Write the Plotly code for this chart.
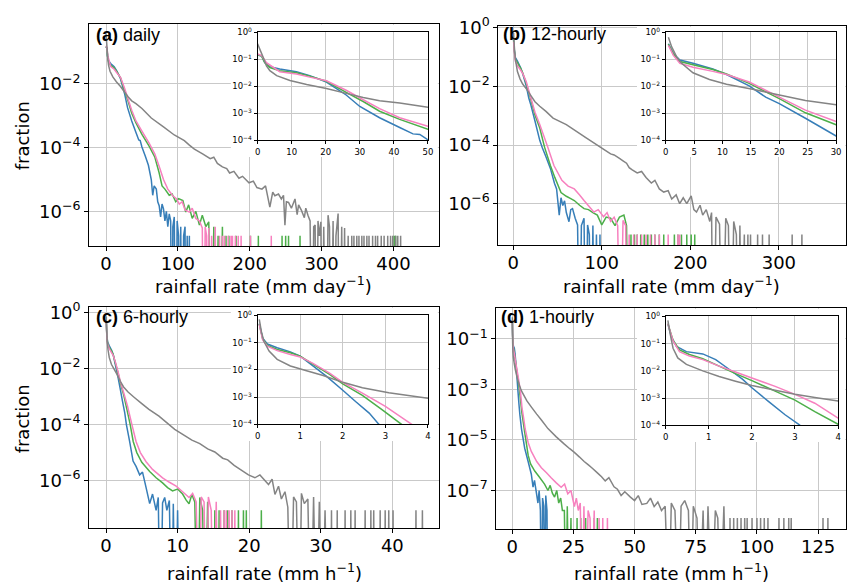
import plotly.graph_objects as go

W, H = 852, 586
BLUE, GREEN, PINK, GRAY = "#377eb8", "#4daf4a", "#f781bf", "#848484"
FLOOR = 1e-12  # stands in for empty (zero) bins on the log axis

# ------------------------------------------------------------------ data
# (a) daily, rainfall rate in mm/day
a_blue_x = [0, 1.2, 2.1, 3.6, 6.5, 11.4, 15.3, 20.2, 26, 30, 35.8, 41.7, 45.6, 47.6, 50, 55, 59, 63, 65, 67,
            70, 72, 74, 76, 78, 80, 82, 84, 86, 88, 90, 92, 93, 95, 97, 99, 101, 102, 104, 106, 108, 110, 111,
            113, 114, 116, 117]
a_blue_y = [0.145, 0.132, 7.6e-2, 5.4e-2, 4.4e-2, 3.5e-2, 2.5e-2, 1.45e-2, 4.8e-3, 1.8e-3, 6.9e-4, 3.0e-4,
            1.74e-4, 1.66e-4, 1.05e-4, 5.2e-5, 2.8e-5, 1.0e-5, 3.2e-6, 6.3e-6, 5.0e-6, 2.0e-6, 1.5e-6, 6.7e-7,
            1.7e-6, 1.2e-6, 5.0e-7, 1.0e-6, 3.3e-7, 8.3e-7, 5.0e-7, 0, 3.3e-7, 6.7e-7, 0, 5.0e-7, 1.7e-7, 0,
            3.3e-7, 0, 1.7e-7, 3.3e-7, 0, 1.7e-7, 0, 1.7e-7, 0]
a_blue_spikes = []
a_green_x = [0, 1.2, 2.1, 3.6, 6.5, 11.4, 15.3, 20.2, 26, 31, 35.8, 41.7, 50, 60, 68, 74, 78, 82, 88, 92, 97,
             101, 107, 111, 115, 120, 125, 130, 134, 139, 143, 147, 150, 153, 156, 158, 162, 164]
a_green_y = [0.151, 0.132, 7.6e-2, 5.0e-2, 3.8e-2, 3.2e-2, 2.4e-2, 1.55e-2, 6.0e-3, 2.75e-3, 1.2e-3, 6.0e-4,
             2.6e-4, 1.12e-4, 5.0e-5, 1.6e-5, 6.3e-6, 5.0e-6, 3.2e-6, 3.5e-6, 2.0e-6, 2.5e-6, 2.2e-6, 9.5e-7,
             1.6e-6, 6.0e-7, 1.0e-6, 3.7e-7, 7.6e-7, 3.3e-7, 4.7e-7, 0, 3.3e-7, 0, 1.7e-7, 0, 3.3e-7, 0]
a_green_spikes = [167, 171, 181, 201, 212, 245, 250, 254, 270, 401, 403]
a_pink_x = [0, 1.2, 2.6, 6.5, 11.4, 15.3, 20.2, 26, 31, 35.8, 41.7, 50, 60, 68, 75, 80, 86, 93, 98, 102, 106,
            110, 116, 120, 125, 130, 134, 136, 138, 140, 141, 143, 145, 147, 149, 152, 154]
a_pink_y = [0.158, 0.138, 7.6e-2, 3.5e-2, 2.9e-2, 2.2e-2, 1.62e-2, 7.2e-3, 3.2e-3, 1.5e-3, 6.9e-4, 3.3e-4,
            1.4e-4, 6.3e-5, 2.2e-5, 1.0e-5, 5.0e-6, 3.1e-6, 2.5e-6, 1.7e-6, 2.0e-6, 1.1e-6, 9.5e-7, 1.26e-6,
            6.0e-7, 5.0e-7, 3.0e-7, 0, 3.3e-7, 1.7e-7, 0, 3.0e-7, 0, 1.7e-7, 0, 3.3e-7, 0]
a_pink_spikes = [158, 162, 165, 170, 174, 176, 180, 184, 188, 201, 230]
a_gray_x = [0, 0.7, 1.7, 2.6, 3.6, 5.6, 9.5, 14.4, 20.2, 26, 31, 35.8, 41.7, 50, 63, 80, 95, 109, 116, 123,
            135, 145, 150, 155, 162, 168, 172, 178, 185, 190, 199, 205, 210, 217, 222, 228, 232, 235, 240, 244,
            247, 249, 251, 254, 258, 263, 266, 268, 272, 276, 278, 281, 284, 287, 289, 291, 293, 295, 297, 299,
            301, 303, 306, 309, 311, 313, 316, 318, 320, 323, 325, 328, 330, 332, 334, 337, 339]
a_gray_y = [0.38, 0.23, 0.115, 5.8e-2, 3.8e-2, 2.5e-2, 1.66e-2, 1.17e-2, 8.3e-3, 5.5e-3, 3.9e-3, 2.95e-3,
            2.4e-3, 1.7e-3, 8.5e-4, 4.5e-4, 2.5e-4, 1.66e-4, 1.2e-4, 9.0e-5, 6.3e-5, 4.5e-5, 5.0e-5, 3.2e-5,
            2.5e-5, 2.2e-5, 1.6e-5, 1.8e-5, 1.1e-5, 1.26e-5, 7.9e-6, 8.9e-6, 5.6e-6, 5.0e-6, 6.3e-6, 1.35e-6,
            4.0e-6, 3.1e-6, 3.5e-6, 2.45e-6, 3.2e-6, 3.7e-7, 2.0e-6, 1.9e-6, 1.26e-6, 2.45e-6, 7.9e-7, 1.6e-6,
            1.07e-6, 6.3e-7, 1.26e-6, 7.6e-7, 5.0e-7, 0, 3.3e-7, 3.7e-7, 0, 5.0e-7, 1.7e-7, 4.7e-7, 0, 3.3e-7,
            0, 7.6e-7, 3.3e-7, 0, 5.0e-7, 0, 1.7e-7, 8.5e-7, 0, 3.3e-7, 0, 3.0e-7, 0, 1.7e-7, 0]
a_gray_spikes = [342, 345, 349, 352, 356, 359, 363, 366, 371, 375, 378, 383, 387, 392, 396, 399, 403, 406, 410]
a_unit = 1.7e-7  # one count

# (b) 12-hourly, mm/day
b_blue_x = [0.47, 1.34, 2.5, 4.8, 8.3, 10.7, 14.7, 17.6, 20, 24.6, 30, 33, 37, 42, 46.6, 49, 52, 54, 56, 58,
            60, 63, 65, 67, 70, 72.7, 75, 77, 80, 82, 84, 86, 88, 90, 92, 94, 96, 98, 99]
b_blue_y = [0.38, 0.166, 9.5e-2, 7.2e-2, 4.4e-2, 2.75e-2, 1.05e-2, 4.0e-3, 2.3e-3, 6.6e-4, 1.45e-4, 7.9e-5,
            4.0e-5, 1.6e-5, 5.0e-6, 3.2e-6, 4.1e-7, 1.6e-6, 8.7e-7, 1.26e-6, 5.0e-7, 2.45e-7, 6.3e-7, 6.8e-7,
            3.2e-7, 1.9e-7, 0, 1.8e-7, 3.2e-7, 0, 1.9e-7, 8.9e-8, 0, 1.8e-7, 0, 8.9e-8, 0, 8.9e-8, 0]
b_blue_spikes = []
b_green_x = [0.47, 1.34, 2.5, 4.8, 8.3, 10.7, 14.7, 20, 24.6, 30, 35.4, 42, 47, 54, 60, 65, 69, 75, 80, 85,
             90, 95, 100, 105, 110, 115, 120, 125, 128, 130]
b_green_y = [0.363, 0.158, 8.3e-2, 6.3e-2, 4.2e-2, 2.9e-2, 1.29e-2, 3.5e-3, 1.05e-3, 3.8e-4, 8.5e-5, 2.0e-5,
             7.9e-6, 2.4e-6, 1.8e-6, 1.5e-6, 1.29e-6, 8.9e-7, 6.8e-7, 6.3e-7, 5.0e-7, 4.1e-7, 1.9e-7, 3.5e-7,
             3.2e-7, 1.8e-7, 3.5e-7, 4.1e-7, 1.8e-7, 0]
b_green_spikes = [133, 137, 140, 144, 148, 152, 156, 160, 165, 170, 182, 186, 190, 196, 201, 205]
b_pink_x = [0.47, 1.34, 2.5, 4.8, 8.3, 10.7, 14.7, 20, 24.6, 30, 39, 46, 55, 62, 69, 75, 80, 86, 91, 96, 102,
            106, 110, 114, 118, 121, 124, 127, 129, 131, 133]
b_pink_y = [0.33, 0.141, 7.2e-2, 5.1e-2, 3.6e-2, 2.75e-2, 1.45e-2, 4.0e-3, 1.32e-3, 5.0e-4, 8.5e-5, 2.0e-5,
            6.3e-6, 4.0e-6, 3.2e-6, 2.0e-6, 1.29e-6, 7.9e-7, 5.2e-7, 6.3e-7, 3.6e-7, 5.0e-7, 2.5e-7, 3.5e-7,
            1.8e-7, 0, 2.7e-7, 1.8e-7, 0, 8.9e-8, 0]
b_pink_spikes = [136, 140, 145, 150, 155, 160, 165, 175, 186, 188]
b_gray_x = [0.47, 1.05, 1.9, 2.8, 4.8, 7.7, 10.7, 15.3, 20, 24.6, 30, 37, 45, 60, 82, 104, 110, 114, 120, 124,
            128, 131, 134, 140, 145, 150, 156, 160, 165, 170, 175, 179, 184, 188, 192, 196, 201, 204, 207, 211,
            214, 218, 222, 224, 226, 229, 233, 236, 240, 243, 246, 249, 252, 254, 256, 258, 261, 262]
b_gray_y = [0.66, 0.29, 0.126, 7.2e-2, 3.2e-2, 1.8e-2, 1.2e-2, 7.9e-3, 4.8e-3, 3.0e-3, 2.1e-3, 1.4e-3, 8.3e-4,
            5.0e-4, 1.8e-4, 6.6e-5, 5.0e-5, 4.6e-5, 3.5e-5, 2.9e-5, 2.4e-5, 1.7e-5, 1.45e-5, 1.12e-5, 1.26e-5,
            7.9e-6, 5.1e-6, 6.3e-6, 3.2e-6, 2.5e-6, 2.8e-6, 1.45e-6, 2.0e-6, 1.0e-6, 1.6e-6, 1.0e-6, 1.86e-6,
            6.3e-7, 5.2e-7, 8.9e-7, 4.1e-7, 6.3e-7, 2.5e-7, 5.0e-7, 0, 3.5e-7, 2.0e-7, 0, 3.2e-7, 1.8e-7, 0,
            2.5e-7, 8.9e-8, 0, 1.8e-7, 0, 8.9e-8, 0]
b_gray_spikes = [265, 268, 276, 281.5, 289, 315, 326]
b_unit = 8.9e-8

# (c) 6-hourly, mm/h
c_blue_x = [0.04, 0.12, 0.23, 0.46, 0.77, 1.0, 1.3, 1.62, 2.0, 2.3, 2.62, 2.85, 3.3, 3.78, 4.2, 4.7, 5.1, 5.6,
            6.1, 6.5, 7.0, 7.3, 7.6, 7.9, 8.2, 8.5, 8.85, 9.2, 9.4, 9.7, 10.0, 10.3]
c_blue_y = [0.5, 0.145, 8.9e-2, 6.5e-2, 4.6e-2, 3.2e-2, 1.4e-2, 5.8e-3, 1.8e-3, 6.9e-4, 2.6e-4, 1.0e-4, 2.5e-5,
            5.0e-6, 3.2e-6, 1.6e-6, 2.0e-6, 5.6e-7, 1.5e-7, 3.3e-7, 8.7e-8, 2.5e-7, 0, 1.6e-7, 2.5e-7, 8.7e-8,
            1.95e-7, 0, 1.5e-7, 0, 8.7e-8, 0]
c_blue_spikes = []
c_green_x = [0.04, 0.12, 0.23, 0.46, 0.77, 1.0, 1.3, 1.69, 2.0, 2.46, 2.92, 3.38, 3.8, 4.3, 5.0, 6.1, 7.0, 7.9,
             8.6, 9.3, 10.0, 10.7, 11.2, 11.6, 12.0, 12.4, 12.8, 13.1, 13.5, 13.8, 14.2, 14.6]
c_green_y = [0.48, 0.138, 7.9e-2, 5.6e-2, 4.3e-2, 3.2e-2, 1.62e-2, 6.8e-3, 3.1e-3, 1.17e-3, 3.5e-4, 1.0e-4,
             2.5e-5, 1.0e-5, 4.5e-6, 2.1e-6, 1.26e-6, 8.3e-7, 5.6e-7, 4.3e-7, 5.0e-7, 3.3e-7, 2.0e-7, 1.5e-7,
             3.2e-7, 1.74e-7, 0, 2.5e-7, 8.7e-8, 0, 1.74e-7, 0]
c_green_spikes = [15.2, 15.8, 16.5, 17.0, 17.6, 18.5, 19.2, 19.6, 21.7]
c_pink_x = [0.04, 0.12, 0.23, 0.46, 0.77, 1.0, 1.3, 1.69, 2.0, 2.46, 3.0, 3.62, 4.2, 4.8, 5.6, 6.5, 7.9, 8.8,
            9.8, 10.7, 11.6, 12.1, 12.6, 13.0, 13.3, 13.7, 14.0, 14.3, 14.7, 15.0, 15.4, 15.7, 16.0, 16.2]
c_pink_y = [0.47, 0.126, 7.4e-2, 5.1e-2, 3.7e-2, 3.0e-2, 1.74e-2, 7.6e-3, 3.5e-3, 1.4e-3, 4.6e-4, 1.0e-4,
            2.5e-5, 1.0e-5, 4.7e-6, 2.5e-6, 1.26e-6, 8.9e-7, 6.3e-7, 4.0e-7, 2.5e-7, 3.5e-7, 1.74e-7, 0, 2.6e-7,
            1.74e-7, 0, 2.6e-7, 8.7e-8, 0, 1.74e-7, 0, 8.7e-8, 0]
c_pink_spikes = [16.5, 16.8, 17.2, 17.6, 18.0]
c_gray_x = [0.04, 0.09, 0.15, 0.27, 0.46, 0.77, 1.15, 1.54, 2.0, 2.46, 3.08, 4.0, 5.0, 6.0, 7.4, 9.6, 12.0,
            13.1, 14.2, 15.2, 16.3, 17.0, 17.9, 19.9, 20.8, 21.5, 22.7, 23.2, 23.6, 24.1, 24.5, 25.0, 25.4, 25.8,
            26.2, 26.6, 27.0, 27.3, 27.7, 28.2, 28.6, 29.0, 29.4, 29.8, 30.2, 30.6, 31.0]
c_gray_y = [0.72, 0.25, 0.11, 4.9e-2, 2.45e-2, 1.4e-2, 9.3e-3, 6.2e-3, 3.5e-3, 2.2e-3, 1.45e-3, 9.1e-4,
            5.6e-4, 3.5e-4, 2.0e-4, 6.8e-5, 2.8e-5, 2.1e-5, 1.35e-5, 1.05e-5, 6.3e-6, 5.5e-6, 3.5e-6, 1.6e-6,
            1.26e-6, 1.6e-6, 7.2e-7, 1.12e-6, 3.2e-7, 6.3e-7, 2.2e-7, 4.0e-7, 1.12e-7, 0, 2.6e-7, 1.74e-7, 0,
            3.5e-7, 1.5e-7, 2.2e-7, 0, 2.6e-7, 0, 1.74e-7, 0, 8.7e-8, 0]
c_gray_spikes = [31.5, 32.3, 33.4, 34.2, 34.8, 36.2, 37.0, 37.4, 38.3, 39.0, 39.5, 40.1, 43.3, 44.2]
c_unit = 8.7e-8

# (d) 1-hourly, mm/h
d_blue_x = [0.05, 0.13, 0.25, 0.48, 0.86, 1.16, 1.47, 1.78, 2.0, 2.39, 2.77, 3.12, 3.8, 5.1, 6.5, 7.8, 8.5,
            9.1, 9.9, 10.5, 11.0, 11.5, 12.0, 12.4, 12.9, 13.3, 13.7, 14.2, 14.6]
d_blue_y = [0.54, 0.178, 7.9e-2, 5.1e-2, 4.2e-2, 2.6e-2, 1.15e-2, 5.0e-3, 2.4e-3, 7.4e-4, 2.45e-4, 1.0e-4,
            2.7e-5, 4.7e-6, 1.4e-6, 4.4e-7, 1.35e-7, 2.5e-7, 7.9e-8, 3.2e-8, 1.0e-7, 1.62e-8, 0, 5.0e-8, 2.4e-8,
            0, 6.3e-8, 1.62e-8, 0]
d_blue_spikes = []
d_green_x = [0.05, 0.17, 0.32, 0.55, 0.86, 1.24, 1.62, 2.0, 2.54, 3.0, 3.46, 4.0, 5.1, 6.5, 7.5, 9.2, 11.0,
             13.2, 14.6, 15.5, 16.4, 17.3, 18.2, 19.0, 19.8, 20.5, 21.3, 22.0, 22.5, 23.2, 24.0, 24.5]
d_green_y = [0.54, 0.135, 5.9e-2, 4.0e-2, 2.8e-2, 1.5e-2, 7.9e-3, 4.4e-3, 1.8e-3, 8.5e-4, 3.2e-4, 1.1e-4,
             2.0e-5, 2.5e-6, 1.12e-6, 5.9e-7, 3.5e-7, 1.8e-7, 1.0e-7, 1.6e-7, 7.9e-8, 5.5e-8, 1.0e-7, 3.2e-8,
             5.0e-8, 1.62e-8, 1.62e-8, 0, 2.4e-8, 0, 8.1e-9, 0]
d_green_spikes = [26.5, 28.0, 30.0, 33.5, 34.8]
d_pink_x = [0.05, 0.17, 0.32, 0.55, 0.86, 1.24, 1.62, 2.0, 2.54, 3.0, 3.46, 4.0, 4.6, 5.3, 6.5, 7.8, 10.0,
            11.9, 14.0, 15.9, 18.0, 20.0, 21.4, 22.7, 24.0, 25.4, 26.2, 27.0, 27.8, 28.6, 29.3, 30.1, 31.0,
            31.8, 32.5, 33.5, 34.2]
d_pink_y = [0.54, 0.126, 5.1e-2, 3.5e-2, 2.6e-2, 1.5e-2, 9.1e-3, 5.5e-3, 2.7e-3, 1.38e-3, 6.5e-4, 1.86e-4,
            7.9e-5, 2.7e-5, 7.9e-6, 3.5e-6, 1.4e-6, 7.9e-7, 5.0e-7, 3.2e-7, 2.0e-7, 1.35e-7, 1.8e-7, 7.4e-8,
            1.0e-7, 2.3e-8, 5.0e-8, 1.62e-8, 3.2e-8, 0, 2.4e-8, 0, 1.62e-8, 8.1e-9, 0, 1.62e-8, 0]
d_pink_spikes = [35.5, 37.0, 38.9]
d_gray_x = [0.05, 0.11, 0.17, 0.28, 0.48, 0.86, 1.24, 1.62, 2.0, 2.54, 3.0, 3.46, 4.0, 6.0, 8.0, 10.0, 12.0,
            14.6, 18.0, 21.3, 23.5, 25.4, 27.5, 29.4, 31.0, 32.5, 34.8, 36.5, 38.0, 39.5, 41.6, 43.0, 44.5,
            46.0, 48.3, 50.0, 51.5, 53.0, 55.0, 56.5, 58.0, 59.5, 61.0, 62.5, 64.0, 65.0, 66.5, 68.0, 69.0,
            70.5, 72.0, 73.0, 74.0, 75.5, 76.5, 78.0, 79.0, 80.0, 81.5, 83.0, 84.0, 85.0, 86.5, 87.5]
d_gray_y = [0.71, 0.2, 6.8e-2, 3.0e-2, 1.74e-2, 1.0e-2, 6.2e-3, 4.2e-3, 2.9e-3, 1.95e-3, 1.38e-3, 1.05e-3,
            7.9e-4, 3.5e-4, 1.9e-4, 1.05e-4, 6.0e-5, 2.8e-5, 1.32e-5, 6.8e-6, 4.5e-6, 3.2e-6, 2.1e-6, 1.4e-6,
            1.05e-6, 7.9e-7, 5.0e-7, 3.5e-7, 2.4e-7, 3.2e-7, 1.4e-7, 1.12e-7, 6.3e-8, 8.9e-8, 5.5e-8, 4.0e-8,
            6.3e-8, 2.8e-8, 3.1e-8, 5.0e-8, 2.3e-8, 3.5e-8, 1.62e-8, 2.4e-8, 0, 3.2e-8, 1.62e-8, 0, 2.4e-8,
            4.0e-8, 1.62e-8, 0, 2.4e-8, 8.1e-9, 0, 1.62e-8, 0, 2.4e-8, 0, 1.62e-8, 8.1e-9, 0, 2.4e-8, 0]
d_gray_spikes = [89, 90.5, 92, 93.5, 95, 96, 98, 100, 101.5, 103, 104.5, 109, 111, 113, 114, 127, 129]
d_unit = 8.1e-9

# tick labels
a_xticks = [0, 100, 200, 300, 400]
b_xticks = [0, 100, 200, 300]
c_xticks = [0, 10, 20, 30, 40]
d_xticks = [0, 25, 50, 75, 100, 125]
a_yexp = [-2, -4, -6]
b_yexp = [0, -2, -4, -6]
c_yexp = [0, -2, -4, -6]
d_yexp = [-1, -3, -5, -7]
inset_yexp = [0, -1, -2, -3, -4]
a_inset_xticks = [0, 10, 20, 30, 40, 50]
b_inset_xticks = [0, 5, 10, 15, 20, 25, 30]
c_inset_xticks = [0, 1, 2, 3, 4]
d_inset_xticks = [0, 1, 2, 3, 4]
labels = [("(a)", "daily"), ("(b)", "12-hourly"), ("(c)", "6-hourly"), ("(d)", "1-hourly")]
x_titles = ["rainfall rate (mm day<sup>−1</sup>)", "rainfall rate (mm day<sup>−1</sup>)",
            "rainfall rate (mm h<sup>−1</sup>)", "rainfall rate (mm h<sup>−1</sup>)"]
y_title = "fraction"


def build(xs, ys, spikes, unit, half):
    assert len(xs) == len(ys), (len(xs), len(ys))
    X, Y = list(xs), list(ys)
    for s in spikes:
        X += [s - half, s, s + half]
        Y += [0, unit, 0]
    Y = [v if v > 0 else FLOOR for v in Y]
    return X, Y


def sup(e):
    return "10<sup>" + ("−" + str(-e) if e < 0 else str(e)) + "</sup>"


def px_dom(p0, p1):
    return [p0 / W, p1 / W]


def py_dom(top, bottom):
    return [1 - bottom / H, 1 - top / H]


panels = [
    dict(series=[(a_blue_x, a_blue_y, a_blue_spikes, BLUE), (a_green_x, a_green_y, a_green_spikes, GREEN),
                 (a_pink_x, a_pink_y, a_pink_spikes, PINK), (a_gray_x, a_gray_y, a_gray_spikes, GRAY)],
         unit=a_unit, half=1.0,
         main=(87, 440, 13, 242), xr=[-23.4, 463.2], yr=[-7.1, -0.107], xt=a_xticks, ye=a_yexp,
         box=(230, 438.8, 14.2, 150), inset=(257, 429, 22, 133), ixr=[0, 50], ixt=a_inset_xticks,
         lab=(92, 24.5), xtit=(263, 282)),
    dict(series=[(b_blue_x, b_blue_y, b_blue_spikes, BLUE), (b_green_x, b_green_y, b_green_spikes, GREEN),
                 (b_pink_x, b_pink_y, b_pink_spikes, PINK), (b_gray_x, b_gray_y, b_gray_spikes, GRAY)],
         unit=b_unit, half=1.0,
         main=(500, 851, 15, 241), xr=[-16.8, 375.8], yr=[-7.42, 0.07], xt=b_xticks, ye=b_yexp,
         box=(640, 850.2, 16.2, 150), inset=(669, 841, 22, 133), ixr=[0, 30], ixt=b_inset_xticks,
         lab=(503, 24), xtit=(675, 282)),
    dict(series=[(c_blue_x, c_blue_y, c_blue_spikes, BLUE), (c_green_x, c_green_y, c_green_spikes, GREEN),
                 (c_pink_x, c_pink_y, c_pink_spikes, PINK), (c_gray_x, c_gray_y, c_gray_spikes, GRAY)],
         unit=c_unit, half=0.1,
         main=(87, 440, 304, 532), xr=[-2.35, 46.5], yr=[-7.71, 0.21], xt=c_xticks, ye=c_yexp,
         box=(230, 438.8, 305.2, 442), inset=(257, 429, 313, 425), ixr=[0, 4], ixt=c_inset_xticks,
         lab=(92, 315), xtit=(264, 577)),
    dict(series=[(d_blue_x, d_blue_y, d_blue_spikes, BLUE), (d_green_x, d_green_y, d_green_spikes, GREEN),
                 (d_pink_x, d_pink_y, d_pink_spikes, PINK), (d_gray_x, d_gray_y, d_gray_spikes, GRAY)],
         unit=d_unit, half=0.3,
         main=(498, 851, 305, 533), xr=[-6.5, 136.4], yr=[-8.54, 0.23], xt=d_xticks, ye=d_yexp,
         box=(640, 850.2, 306.2, 443), inset=(669, 843, 314, 426), ixr=[0, 4], ixt=d_inset_xticks,
         lab=(501, 315), xtit=(674.5, 577)),
]

fig = go.Figure()
layout = {}
annotations = []
TICKFONT = dict(family="DejaVu Sans", size=18, color="black")
SMALLFONT = dict(family="DejaVu Sans", size=8.5, color="black")
GRID = "#c9c9c9"


def axname(n):
    return "" if n == 1 else str(n)


for i, p in enumerate(panels):
    nm, nb, ni = i + 1, i + 5, i + 9
    built = [(build(xs, ys, sp, p["unit"], p["half"]), col) for xs, ys, sp, col in p["series"]]
    # main panel
    for (X, Y), col in built:
        fig.add_trace(go.Scatter(x=X, y=Y, mode="lines", line=dict(color=col, width=1.5, simplify=False),
                                 xaxis="x" + axname(nm), yaxis="y" + axname(nm), showlegend=False,
                                 hoverinfo="skip"))
    L, R, T, B = p["main"]
    layout["xaxis" + axname(nm)] = dict(
        domain=px_dom(L, R), range=p["xr"], anchor="y" + axname(nm), tickmode="array", tickvals=p["xt"],
        ticktext=[str(t) for t in p["xt"]], showline=True, mirror=True, linecolor="black", linewidth=1,
        ticks="outside", ticklen=4, tickcolor="black", showgrid=True, gridcolor=GRID, gridwidth=1,
        zeroline=False, tickfont=TICKFONT, ticklabelstandoff=-3)
    layout["yaxis" + axname(nm)] = dict(
        domain=py_dom(T, B), type="log", range=p["yr"], anchor="x" + axname(nm), tickmode="array",
        tickvals=[10.0 ** e for e in p["ye"]], ticktext=[sup(e) for e in p["ye"]], showline=True, mirror=True,
        linecolor="black", linewidth=1, ticks="outside", ticklen=4, tickcolor="black", showgrid=True,
        gridcolor=GRID, gridwidth=1, zeroline=False, tickfont=TICKFONT)
    # white box hiding the main panel behind the inset
    bL, bR, bT, bB = p["box"]
    fig.add_trace(go.Scatter(x=[0, 1, 1, 0, 0], y=[0, 0, 1, 1, 0], mode="lines", fill="toself",
                             fillcolor="white", line=dict(width=0, color="white"),
                             xaxis="x" + str(nb), yaxis="y" + str(nb), showlegend=False, hoverinfo="skip"))
    layout["xaxis" + str(nb)] = dict(domain=px_dom(bL, bR), range=[0, 1], anchor="y" + str(nb), visible=False)
    layout["yaxis" + str(nb)] = dict(domain=py_dom(bT, bB), range=[0, 1], anchor="x" + str(nb), visible=False)
    # inset
    for (X, Y), col in built:
        fig.add_trace(go.Scatter(x=X, y=Y, mode="lines", line=dict(color=col, width=1.5, simplify=False),
                                 xaxis="x" + str(ni), yaxis="y" + str(ni), showlegend=False,
                                 hoverinfo="skip"))
    iL, iR, iT, iB = p["inset"]
    layout["xaxis" + str(ni)] = dict(
        domain=px_dom(iL, iR), range=p["ixr"], anchor="y" + str(ni), tickmode="array", tickvals=p["ixt"],
        ticktext=[str(t) for t in p["ixt"]], showline=True, mirror=True, linecolor="black", linewidth=1,
        ticks="outside", ticklen=3, tickcolor="black", showgrid=True, gridcolor=GRID, gridwidth=1,
        zeroline=False, tickfont=SMALLFONT)
    layout["yaxis" + str(ni)] = dict(
        domain=py_dom(iT, iB), type="log", range=[-4, 0], anchor="x" + str(ni), tickmode="array",
        tickvals=[10.0 ** e for e in inset_yexp], ticktext=[sup(e) for e in inset_yexp], showline=True,
        mirror=True, linecolor="black", linewidth=1, ticks="outside", ticklen=3, tickcolor="black",
        showgrid=True, gridcolor=GRID, gridwidth=1, zeroline=False, tickfont=SMALLFONT)
    # texts
    lx, ly = p["lab"]
    annotations.append(dict(x=lx / W, y=1 - ly / H, xref="paper", yref="paper", xanchor="left",
                            yanchor="middle", showarrow=False,
                            text="<b>" + labels[i][0] + "</b> " + labels[i][1],
                            font=dict(family="Liberation Sans, Arial", size=18, color="black")))
    tx, ty = p["xtit"]
    annotations.append(dict(x=tx / W, y=1 - ty / H, xref="paper", yref="paper", xanchor="center",
                            yanchor="middle", showarrow=False, text=x_titles[i],
                            font=dict(family="DejaVu Sans", size=18, color="black")))

for cy in (128, 419):
    annotations.append(dict(x=20 / W, y=1 - cy / H, xref="paper", yref="paper", xanchor="center",
                            yanchor="middle", showarrow=False, text=y_title, textangle=-90,
                            font=dict(family="DejaVu Sans", size=18, color="black")))

fig.update_layout(width=W, height=H, autosize=False, margin=dict(l=0, r=0, t=0, b=0),
                  paper_bgcolor="white", plot_bgcolor="white", annotations=annotations, **layout)
fig.write_html("out.html", config={"displayModeBar": False},
               post_script="document.body.style.margin='0px';")
